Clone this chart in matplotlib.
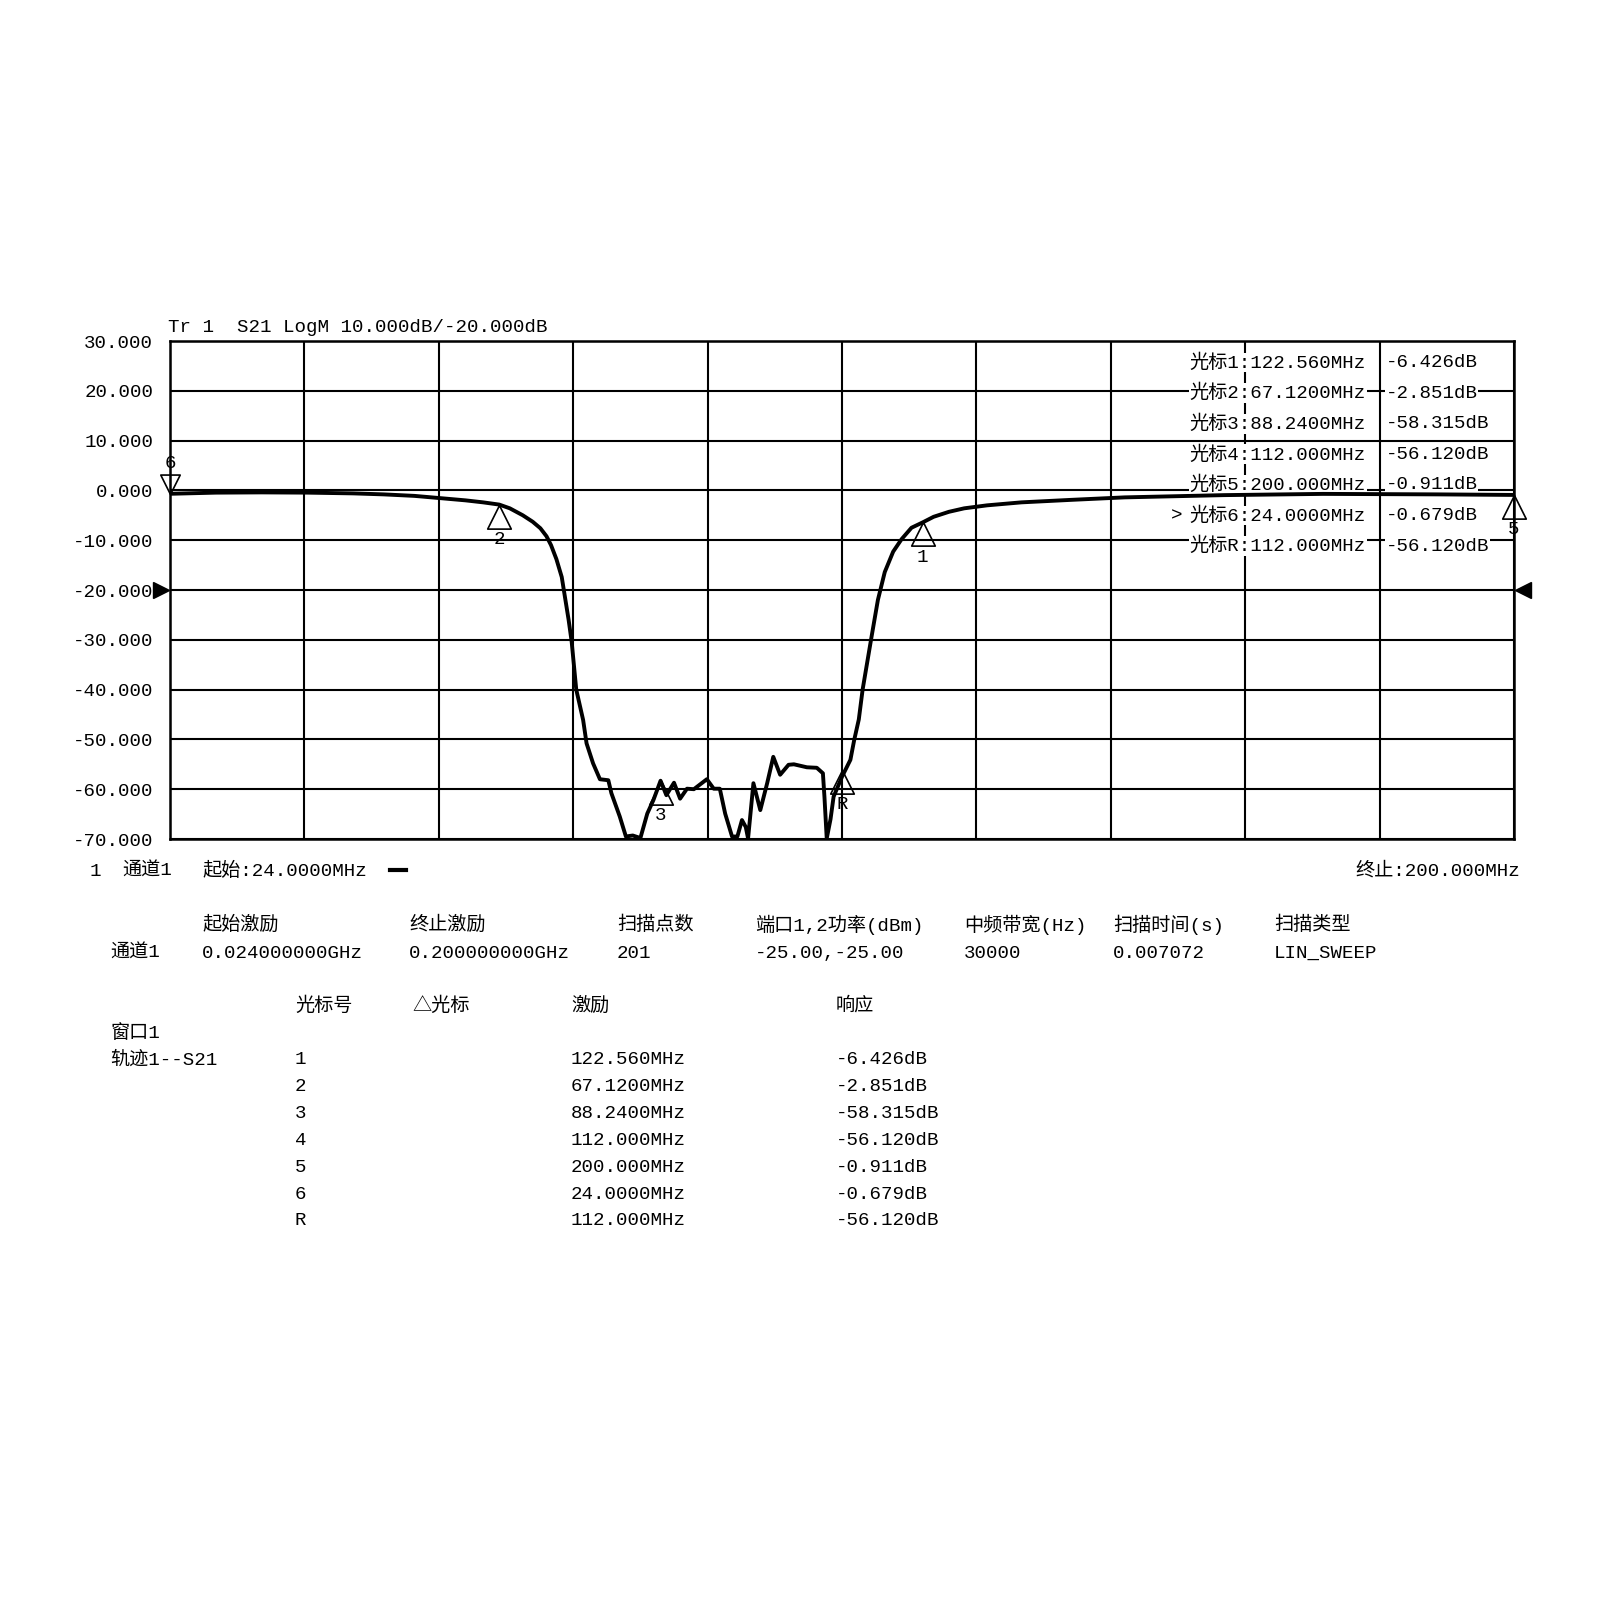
import numpy as np
import matplotlib.pyplot as plt
from matplotlib.path import Path
from matplotlib.lines import Line2D
from matplotlib.transforms import blended_transform_factory

plt.rcParams['font.family'] = ['Liberation Mono', 'Noto Sans CJK SC']

# S21 trace (MHz, dB)
freq_mhz = [24, 30, 36, 42, 48, 52, 56, 59, 62.7, 65, 67.12, 68.5, 70.2, 71.5,
            72.5, 73.3, 73.9, 74.6, 75.3, 76.2, 76.6, 77.2, 78.1, 78.55, 79.4,
            80.3, 81.4, 81.8, 82.9, 83.7, 84.6, 85.6, 86.5, 87.3, 88.24, 89,
            90, 90.8, 91.7, 92.6, 94.3, 95.2, 96.0, 96.7, 97.6, 98.3, 98.9,
            99.4, 99.7, 100.4, 101.3, 102.2, 103, 103.9, 105, 105.7, 107.4,
            108.7, 109.5, 109.7, 110, 110.5, 110.9, 112, 113.1, 113.6, 114.2,
            114.7, 115.8, 116.7, 117.6, 118.7, 119.8, 121.1, 122.56,
            124, 126, 128, 131, 135.5, 142, 149, 162, 175, 190, 200]
s21_db = [-0.68, -0.45, -0.4, -0.45, -0.6, -0.8, -1.1, -1.5, -2.0, -2.4, -2.85,
          -3.6, -5.0, -6.3, -7.6, -9.2, -11, -13.8, -17.4, -26, -30.4, -40,
          -46.1, -50.8, -54.8, -58, -58.2, -60.8, -65.5, -69.5, -69.3, -69.8,
          -64.9, -62.2, -58.3, -61.2, -58.7, -61.9, -59.9, -60, -58, -59.9,
          -59.9, -64.9, -69.5, -69.5, -66.2, -67.6, -69.9, -58.8, -64.2,
          -58.8, -53.5, -57.1, -55.1, -55, -55.6, -55.7, -56.8, -61.5, -69.9,
          -66, -61.5, -57.5, -54.1, -50.1, -46, -40, -30, -22, -16.4, -12.3,
          -9.8, -7.5, -6.43, -5.3, -4.3, -3.6, -3.0, -2.4, -1.9, -1.4,
          -0.95, -0.7, -0.8, -0.91]

# markers
marker_names = ['1', '2', '3', '4', '5', '6', 'R']
marker_freq = [122.56, 67.12, 88.24, 112.0, 200.0, 24.0, 112.0]
marker_db = [-6.426, -2.851, -58.315, -56.120, -0.911, -0.679, -56.120]
active_marker = '6'

start_mhz, stop_mhz = 24.0, 200.0
y_top, y_bottom = 30.0, -70.0
ref_level = -20.0
scale_db = 10.0

# channel settings table
chan_headers = ['起始激励', '终止激励', '扫描点数', '端口1,2功率(dBm)', '中频带宽(Hz)',
                '扫描时间(s)', '扫描类型']
chan_values = ['0.024000000GHz', '0.200000000GHz', '201', '-25.00,-25.00',
               '30000', '0.007072', 'LIN_SWEEP']

W = H = 1601
FS = 13.8


def fx(x):
    return x / W


def fy(y):
    return 1 - y / H


def fmt_freq(f):
    return '%.*fMHz' % (6 - len(str(int(f))), f)


fig = plt.figure(figsize=(W / 100, H / 100), dpi=100)
fig.patch.set_facecolor('white')
ax = fig.add_axes([fx(170), fy(839), 1344 / W, 498 / H])

ax.plot(freq_mhz, s21_db, color='black', lw=2.8, zorder=3, solid_joinstyle='round')
ax.set_xlim(start_mhz, stop_mhz)
ax.set_ylim(y_bottom, y_top)
ax.set_xticks(np.linspace(start_mhz, stop_mhz, 11))
ax.set_yticks(np.arange(y_bottom, y_top + 1, scale_db))
ax.set_yticklabels(['%.3f' % v for v in np.arange(y_bottom, y_top + 1, scale_db)],
                   fontsize=FS)
ax.set_xticklabels([])
ax.tick_params(length=0, pad=12)
ax.set_axisbelow(True)
ax.grid(True, color='black', lw=1.5)
for sp in ax.spines.values():
    sp.set_linewidth(1.8)

# reference level arrows
trans = blended_transform_factory(ax.transAxes, ax.transData)
ax.plot([-0.0064], [ref_level], marker='>', ms=12, color='black',
        transform=trans, clip_on=False)
ax.plot([1.0064], [ref_level], marker='<', ms=12, color='black',
        transform=trans, clip_on=False)

# marker triangles
up_tri = Path([(0, 0), (-0.5, -1), (0.5, -1), (0, 0)])
down_tri = Path([(0, 0), (-0.5, 1), (0.5, 1), (0, 0)])
for name, f, v in zip(marker_names, marker_freq, marker_db):
    if name == '4':
        continue  # sits under R
    if name == active_marker:
        ax.plot([f], [v], marker=down_tri, ms=28, mfc='none', mec='black',
                mew=1.2, clip_on=False, zorder=4)
        ax.annotate(name, (f, v), xytext=(0, 22), textcoords='offset points',
                    ha='center', va='center', fontsize=FS, annotation_clip=False)
    else:
        ax.plot([f], [v], marker=up_tri, ms=34, mfc='none', mec='black',
                mew=1.2, clip_on=False, zorder=4)
        ax.annotate(name, (f, v), xytext=(0, -25), textcoords='offset points',
                    ha='center', va='center', fontsize=FS, annotation_clip=False)

# marker readout on the screen
order = ['1', '2', '3', '4', '5', '6', 'R']
for i, name in enumerate(order):
    k = marker_names.index(name)
    y = 362.5 + i * 30.6
    box = dict(facecolor='white', edgecolor='none', pad=0.5)
    ax.text(fx(1189.5), fy(y), '光标%s:%s' % (name, fmt_freq(marker_freq[k])),
            transform=fig.transFigure, ha='left', va='center', fontsize=FS,
            bbox=box, zorder=2)
    ax.text(fx(1385.5), fy(y), '%.3fdB' % marker_db[k], transform=fig.transFigure,
            ha='left', va='center', fontsize=FS, bbox=box, zorder=2)
    if name == active_marker:
        ax.text(fx(1171), fy(y), '>', transform=fig.transFigure, ha='left',
                va='center', fontsize=FS, zorder=2)

# title
fig.text(fx(168), fy(327), 'Tr 1  S21 LogM %.3fdB/%.3fdB' % (scale_db, ref_level),
         ha='left', va='center', fontsize=FS)

# bottom status line
fig.text(fx(90), fy(871), '1', ha='left', va='center', fontsize=FS)
fig.text(fx(122), fy(871), '通道1', ha='left', va='center', fontsize=FS)
fig.text(fx(202), fy(871), '起始:%s' % fmt_freq(start_mhz), ha='left', va='center',
         fontsize=FS)
fig.add_artist(Line2D([fx(390), fx(406)], [fy(870), fy(870)], color='black', lw=3))
fig.text(fx(1520), fy(871), '终止:%s' % fmt_freq(stop_mhz), ha='right', va='center',
         fontsize=FS)

# channel settings
col_x = [202, 409, 617, 755, 964, 1113, 1274]
for x, h, v in zip(col_x, chan_headers, chan_values):
    fig.text(fx(x), fy(925), h, ha='left', va='center', fontsize=FS)
    fig.text(fx(x), fy(953), v, ha='left', va='center', fontsize=FS)
fig.text(fx(110), fy(953), '通道1', ha='left', va='center', fontsize=FS)

# marker table
fig.text(fx(295), fy(1006), '光标号', ha='left', va='center', fontsize=FS)
fig.text(fx(412), fy(1006), '△光标', ha='left', va='center', fontsize=FS)
fig.text(fx(571), fy(1006), '激励', ha='left', va='center', fontsize=FS)
fig.text(fx(836), fy(1006), '响应', ha='left', va='center', fontsize=FS)
fig.text(fx(110), fy(1033), '窗口1', ha='left', va='center', fontsize=FS)
fig.text(fx(110), fy(1060), '轨迹1--S21', ha='left', va='center', fontsize=FS)
for i, name in enumerate(order):
    k = marker_names.index(name)
    y = 1060 + i * 26.8
    fig.text(fx(295), fy(y), name, ha='left', va='center', fontsize=FS)
    fig.text(fx(571), fy(y), fmt_freq(marker_freq[k]), ha='left', va='center',
             fontsize=FS)
    fig.text(fx(836), fy(y), '%.3fdB' % marker_db[k], ha='left', va='center',
             fontsize=FS)

fig.savefig('out.png', dpi=100, facecolor='white')
